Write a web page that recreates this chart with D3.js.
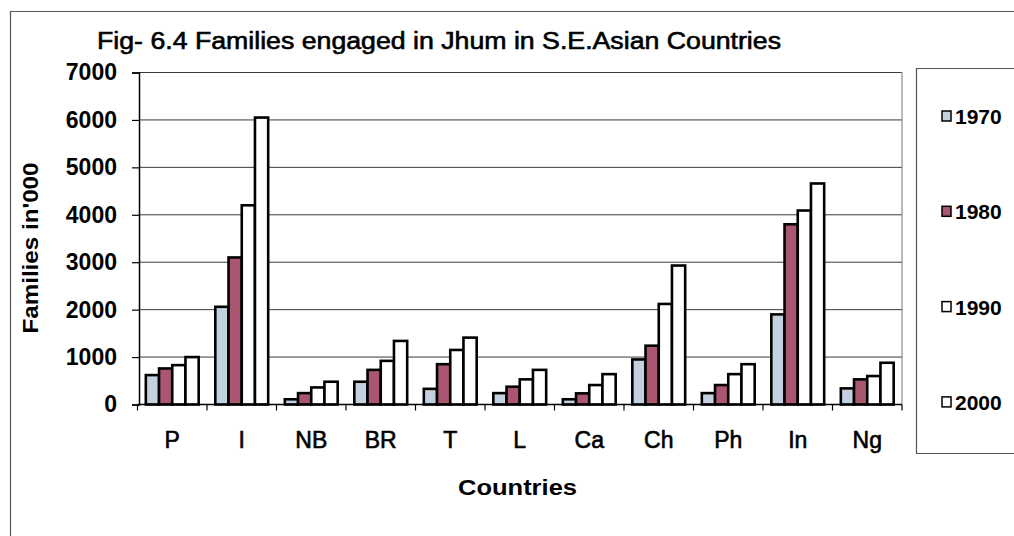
<!DOCTYPE html>
<html>
<head>
<meta charset="utf-8">
<script src="https://cdn.jsdelivr.net/npm/d3@7"></script>
<style>
  body { margin: 0; background: #fff; }
  svg { display: block; }
  text { font-family: "Liberation Sans", Arial, sans-serif; fill: #000; }
</style>
</head>
<body>
<svg id="chart" width="1014" height="536"></svg>
<script>
// Families engaged in jhum (shifting cultivation), thousands
const countries = ["P", "I", "NB", "BR", "T", "L", "Ca", "Ch", "Ph", "In", "Ng"];
const years = ["1970", "1980", "1990", "2000"];
const values1970 = [620, 2060, 110, 480, 330, 240, 110, 950, 240, 1900, 340];
const values1980 = [760, 3100, 240, 730, 850, 375, 235, 1240, 410, 3800, 530];
const values1990 = [830, 4200, 360, 920, 1150, 530, 410, 2120, 640, 4090, 600];
const values2000 = [1000, 6050, 480, 1340, 1410, 730, 640, 2930, 850, 4660, 880];
const yTickValues = [0, 1000, 2000, 3000, 4000, 5000, 6000, 7000];
const titleText = "Fig- 6.4 Families engaged in Jhum in S.E.Asian Countries";
const yTitleText = "Families in'000";
const xTitleText = "Countries";

const seriesValues = [values1970, values1980, values1990, values2000];
const seriesFill = ["#c2d1dd", "#ab5670", "#ffffff", "#ffffff"];

const svg = d3.select("#chart");

const plot = { left: 139, right: 902, top: 72.5, bottom: 404.5 };

// outer chart frame (top and left edges visible)
svg.append("path")
  .attr("d", "M10.5,536 L10.5,11.5 L1014,11.5")
  .attr("fill", "none").attr("stroke", "#555").attr("stroke-width", 1.2);

const x0 = d3.scaleBand().domain(countries).range([137.5, plot.right]).padding(0);
const x1 = d3.scaleBand().domain(years).range([0, x0.bandwidth()]).paddingInner(0).paddingOuter(0.63);
const y = d3.scaleLinear().domain([0, 7000]).range([plot.bottom, plot.top]);

// gridlines
svg.append("g").selectAll("line")
  .data(yTickValues.filter(d => d > 0))
  .join("line")
  .attr("x1", plot.left).attr("x2", plot.right)
  .attr("y1", d => y(d)).attr("y2", d => y(d))
  .attr("stroke", "#3a3a3a").attr("stroke-width", 1);

// plot area right edge
svg.append("line")
  .attr("x1", plot.right).attr("x2", plot.right)
  .attr("y1", plot.top).attr("y2", plot.bottom)
  .attr("stroke", "#777").attr("stroke-width", 1);

// bars
const barGroups = svg.append("g").selectAll("g")
  .data(years.map((yr, i) => ({ year: yr, fill: seriesFill[i], values: seriesValues[i] })))
  .join("g");

barGroups.selectAll("rect")
  .data(s => s.values.map((v, j) => ({ year: s.year, fill: s.fill, country: countries[j], value: v })))
  .join("rect")
  .attr("x", d => x0(d.country) + x1(d.year))
  .attr("y", d => y(d.value))
  .attr("width", x1.bandwidth())
  .attr("height", d => y(0) - y(d.value))
  .attr("fill", d => d.fill)
  .attr("stroke", "#000")
  .attr("stroke-width", 2.6);

// y axis
const yAxis = svg.append("g")
  .attr("transform", `translate(${plot.left},0)`)
  .call(d3.axisLeft(y).tickValues(yTickValues).tickFormat(d3.format("d")).tickSize(7).tickPadding(15));
yAxis.select(".domain").attr("stroke", "#000").attr("stroke-width", 1.5);
yAxis.selectAll(".tick line").attr("stroke", "#000").attr("stroke-width", 1.2);
yAxis.selectAll(".tick text")
  .attr("font-size", 23).attr("font-weight", "bold")
  .attr("font-family", "'Liberation Sans', Arial, sans-serif");

// x axis
const xAxis = svg.append("g")
  .attr("transform", `translate(0,${plot.bottom})`)
  .call(d3.axisBottom(x0).tickSize(0).tickPadding(27));
xAxis.select(".domain").remove();
xAxis.selectAll(".tick text")
  .attr("font-size", 23)
  .attr("stroke", "#000").attr("stroke-width", 0.6)
  .attr("font-family", "'Liberation Sans', Arial, sans-serif");

svg.append("line")
  .attr("x1", 137.5).attr("x2", plot.right)
  .attr("y1", plot.bottom).attr("y2", plot.bottom)
  .attr("stroke", "#000").attr("stroke-width", 1.5);

// category boundary ticks
const boundaries = countries.map(c => x0(c)).concat([x0(countries[countries.length - 1]) + x0.bandwidth()]);
svg.append("g").selectAll("line")
  .data(boundaries)
  .join("line")
  .attr("x1", d => d).attr("x2", d => d)
  .attr("y1", plot.bottom).attr("y2", plot.bottom + 6)
  .attr("stroke", "#000").attr("stroke-width", 1.2);

// title
svg.append("text")
  .attr("x", 97).attr("y", 48.5)
  .attr("font-size", 23)
  .attr("stroke", "#000").attr("stroke-width", 0.6)
  .attr("textLength", 684).attr("lengthAdjust", "spacingAndGlyphs")
  .text(titleText);

// y axis title
svg.append("text")
  .attr("transform", "translate(38,248) rotate(-90)")
  .attr("text-anchor", "middle")
  .attr("font-size", 22).attr("font-weight", "bold")
  .attr("textLength", 171).attr("lengthAdjust", "spacingAndGlyphs")
  .text(yTitleText);

// x axis title
svg.append("text")
  .attr("x", 517.5).attr("y", 495)
  .attr("text-anchor", "middle")
  .attr("font-size", 22).attr("font-weight", "bold")
  .attr("textLength", 119).attr("lengthAdjust", "spacingAndGlyphs")
  .text(xTitleText);

// legend
svg.append("path")
  .attr("d", "M1014,68.5 L916.5,68.5 L916.5,453.5 L1014,453.5")
  .attr("fill", "none").attr("stroke", "#555").attr("stroke-width", 1.2);

const legendItems = svg.append("g").selectAll("g")
  .data(years.map((yr, i) => ({ year: yr, fill: seriesFill[i] })))
  .join("g")
  .attr("transform", (d, i) => `translate(942,${116 + i * 95.3})`);

legendItems.append("rect")
  .attr("x", 0).attr("y", -5)
  .attr("width", 9).attr("height", 10)
  .attr("fill", d => d.fill)
  .attr("stroke", "#000").attr("stroke-width", 1.5);

legendItems.append("text")
  .attr("x", 13).attr("y", 8)
  .attr("font-size", 21).attr("font-weight", "bold")
  .text(d => d.year);
</script>
</body>
</html>
